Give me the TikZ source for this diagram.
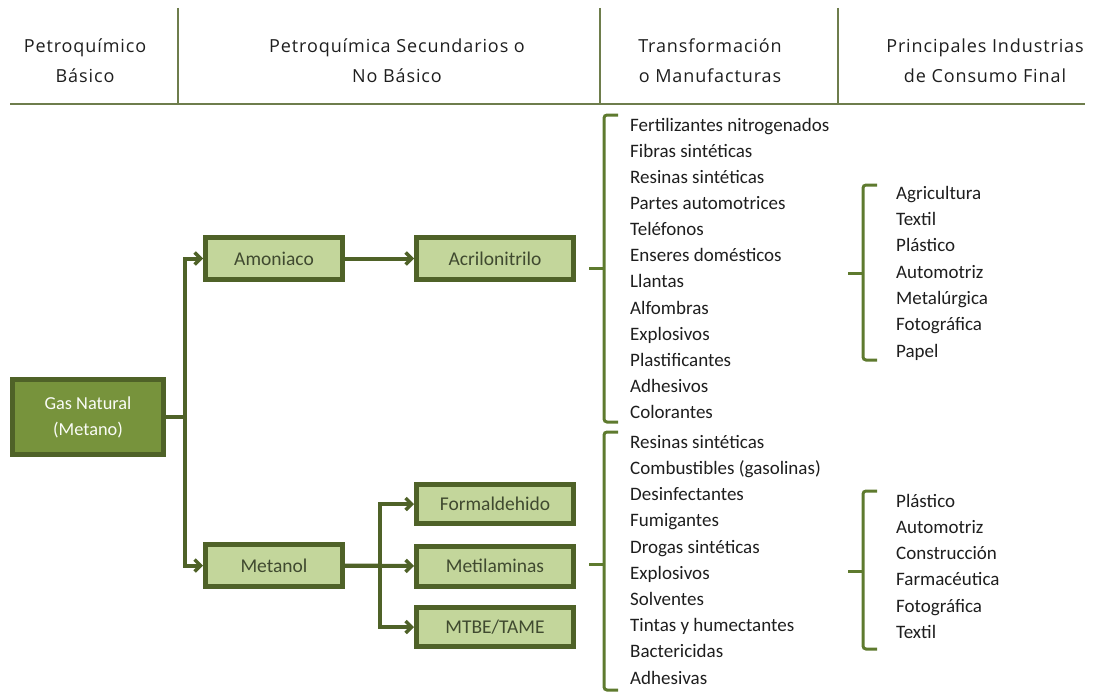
\documentclass[tikz,border=0pt]{standalone}
\usepackage{fontspec}
\setmainfont{Carlito}
\newfontfamily\hdrfont[LetterSpace=5]{Open Sans}
\usetikzlibrary{arrows.meta}
\definecolor{dkol}{HTML}{4F6228}
\definecolor{midol}{HTML}{77933C}
\definecolor{ltol}{HTML}{C3D69B}
\definecolor{hline}{HTML}{6E7D4C}
\definecolor{brc}{HTML}{5E7A2E}
\definecolor{txt}{HTML}{1E1E1E}
\definecolor{boxtxt}{HTML}{404A30}
\tikzset{
  box/.style={draw=dkol, line width=5pt, fill=ltol, text=boxtxt, inner sep=0pt, font=\fontsize{19.5}{22}\selectfont},
  gasbox/.style={draw=dkol, line width=5pt, fill=midol, text=white!92!ltol, align=center, inner sep=0pt, font=\fontsize{18.3}{26}\selectfont},
  conn/.style={draw=dkol, line width=4pt},
  arr/.style={draw=dkol, line width=4pt, -{Straight Barb[length=6pt,width=12pt,line width=3.5pt]}},
  brace/.style={draw=brc, line width=3pt, rounded corners=3pt},
  item/.style={anchor=mid west, inner sep=0pt, text=txt, font=\fontsize{19}{22}\selectfont},
  hdr/.style={align=center, text=txt, font=\hdrfont\fontsize{18}{30}\selectfont},
  hrule/.style={draw=hline, line width=1.5pt}
}
\begin{document}
\begin{tikzpicture}[x=1pt,y=-1pt]
\useasboundingbox (0,0) rectangle (1095,693);
% header
\draw[hrule] (10,104) -- (1085,104);
\draw[hrule] (178,8) -- (178,104);
\draw[hrule] (600,8) -- (600,104);
\draw[hrule] (838,8) -- (838,104);
\node[hdr] (h1) at (85,61) {Petroquímico\\Básico};
\node[hdr] (h2) at (397,61) {Petroquímica Secundarios o\\No Básico};
\node[hdr] (h3) at (710,61) {Transformación\\o Manufacturas};
\node[hdr] (h4) at (985,61) {Principales Industrias\\de Consumo Final};
% boxes
\node[gasbox, minimum width=151pt, minimum height=75pt] (gas) at (88,417) {Gas Natural\\(Metano)};
\node[box, minimum width=137pt, minimum height=42pt] (amon) at (274,258.5) {Amoniaco};
\node[box, minimum width=157pt, minimum height=42pt] (acr) at (495,258.5) {Acrilonitrilo};
\node[box, minimum width=137pt, minimum height=42pt] (met) at (274,565.5) {Metanol};
\node[box, minimum width=157pt, minimum height=39pt] (form) at (495,504) {Formaldehido};
\node[box, minimum width=157pt, minimum height=40pt] (metil) at (495,566) {Metilaminas};
\node[box, minimum width=157pt, minimum height=39pt] (mtbe) at (495,627) {MTBE/TAME};
% connectors
\coordinate (j1) at (185,417);
\coordinate (j2) at (380,565.5);
\draw[conn] (gas.east) -- (j1);
\draw[arr] (j1) |- (amon.west);
\draw[arr] (j1) |- (met.west);
\draw[arr] (amon.east) -- (acr.west);
\draw[conn] (met.east) -- (j2);
\draw[arr] (j2) |- (form.west);
\draw[arr] (j2) |- (mtbe.west);
\draw[arr] (met.east) -- (metil.west);
% braces
\draw[brace] (618,115) -- (604,115) -- (604,422) -- (618,422);
\draw[brace] (604,268) -- (589,268);
\draw[brace] (618,432) -- (604,432) -- (604,690) -- (618,690);
\draw[brace] (604,564) -- (589,564);
\draw[brace] (877,185) -- (863,185) -- (863,360) -- (877,360);
\draw[brace] (863,273) -- (848,273);
\draw[brace] (877,491) -- (863,491) -- (863,649) -- (877,649);
\draw[brace] (863,571) -- (848,571);
% list 1
\foreach \t [count=\i from 0] in {Fertilizantes nitrogenados, Fibras sintéticas, Resinas sintéticas, Partes automotrices, Teléfonos, Enseres domésticos, Llantas, Alfombras, Explosivos, Plastificantes, Adhesivos, Colorantes}
  \node[item] (a\i) at (630,{129+26.1*\i}) {\t};
% list 2
\foreach \t [count=\i from 0] in {Resinas sintéticas, Combustibles (gasolinas), Desinfectantes, Fumigantes, Drogas sintéticas, Explosivos, Solventes, Tintas y humectantes, Bactericidas, Adhesivas}
  \node[item] (b\i) at (630,{446+26.2*\i}) {\t};
% list 3
\foreach \t [count=\i from 0] in {Agricultura, Textil, Plástico, Automotriz, Metalúrgica, Fotográfica, Papel}
  \node[item] (c\i) at (896,{197+26.3*\i}) {\t};
% list 4
\foreach \t [count=\i from 0] in {Plástico, Automotriz, Construcción, Farmacéutica, Fotográfica, Textil}
  \node[item] (d\i) at (896,{505+26.2*\i}) {\t};
\end{tikzpicture}
\end{document}
